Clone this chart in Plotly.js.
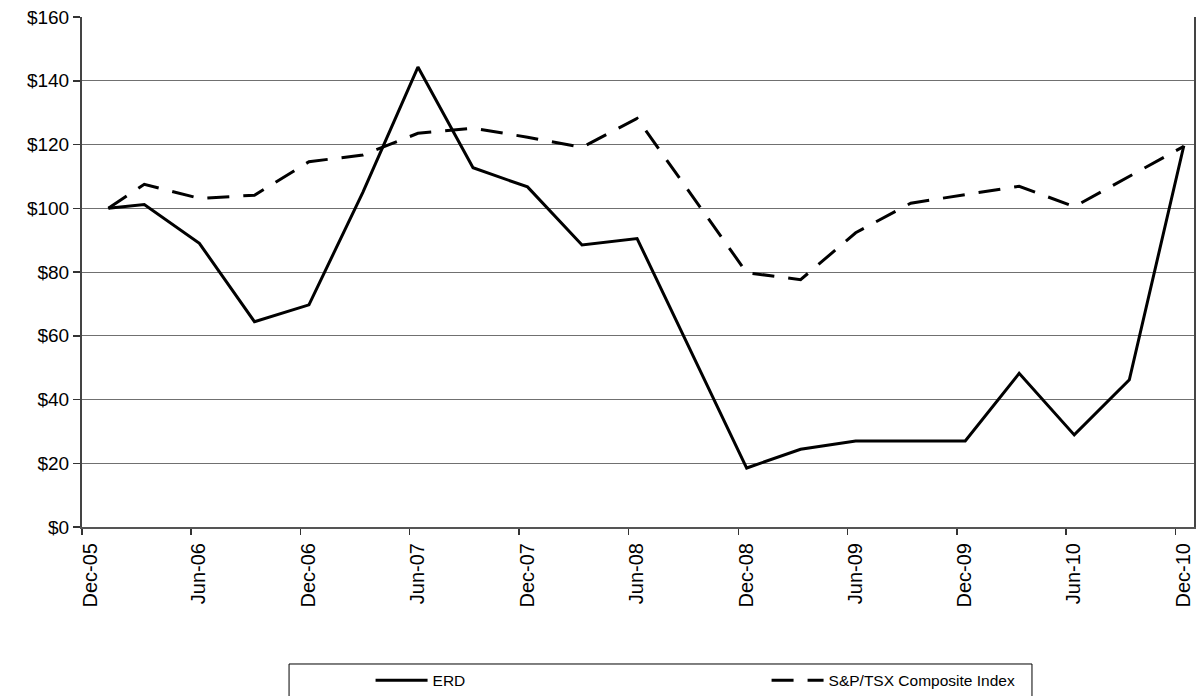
<!DOCTYPE html>
<html>
<head>
<meta charset="utf-8">
<script src="https://cdn.plot.ly/plotly-3.0.1.min.js"></script>
<style>html,body{margin:0;padding:0;background:#fff;}#chart{width:1197px;height:696px;}</style>
</head>
<body>
<div id="chart"></div>
<script>
// Quarterly observation dates
const dates = ['2006-01-14','2006-03-15','2006-06-15','2006-09-15','2006-12-15',
  '2007-03-15','2007-06-15','2007-09-15','2007-12-15',
  '2008-03-15','2008-06-15','2008-09-15','2008-12-15',
  '2009-03-15','2009-06-15','2009-09-15','2009-12-15',
  '2010-03-15','2010-06-15','2010-09-15','2010-12-15'];
const erd = [100, 101.2, 89.0, 64.4, 69.7, 105.0, 144.3, 112.7, 106.7, 88.5, 90.5,
  54.5, 18.5, 24.4, 27.0, 27.0, 27.0, 48.2, 28.9, 46.2, 119.6];
const sptsx = [100, 107.5, 103.1, 104.1, 114.6, 116.7, 123.5, 125.1, 122.3, 119.1, 128.2,
  104.0, 79.8, 77.6, 92.3, 101.6, 104.2, 106.9, 100.5, 110.0, 119.4];
const tickDates = ['2005-12-01','2006-06-01','2006-12-01','2007-06-01','2007-12-01','2008-06-01',
  '2008-12-01','2009-06-01','2009-12-01','2010-06-01','2010-12-01'];
const tickLabels = ['Dec-05','Jun-06','Dec-06','Jun-07','Dec-07','Jun-08','Dec-08','Jun-09','Dec-09','Jun-10','Dec-10'];
const yTicks = [0,20,40,60,80,100,120,140,160];
const yLabels = ['$0','$20','$40','$60','$80','$100','$120','$140','$160'];

const font = 'Liberation Sans, Arial, sans-serif';
const traces = [
  {x: dates, y: erd, name: 'ERD', type: 'scatter', mode: 'lines',
   line: {color: '#000', width: 3}},
  {x: dates, y: sptsx, name: 'S&P/TSX Composite Index', type: 'scatter', mode: 'lines',
   line: {color: '#000', width: 3, dash: '22px,14px'}}
];
const layout = {
  width: 1197, height: 696,
  margin: {l: 82, r: 3, t: 17, b: 169, autoexpand: false},
  paper_bgcolor: '#fff', plot_bgcolor: '#fff',
  font: {family: font, color: '#000', size: 18},
  showlegend: true,
  legend: {orientation: 'h', x: 0.2595, xanchor: 'left', y: -0.268, yanchor: 'top',
    font: {family: font, size: 15.5, color: '#000'}, bgcolor: 'rgba(0,0,0,0)',
    entrywidth: 329, entrywidthmode: 'pixels', itemwidth: 52, borderwidth: 0},
  xaxis: {type: 'date', range: ['2005-12-01','2011-01-01'],
    tickmode: 'array', tickvals: tickDates, ticktext: tickLabels,
    tickangle: -90, ticks: 'outside', ticklen: 6, tickcolor: '#333', tickwidth: 1.5,
    ticklabelshift: 8,
    showgrid: false, zeroline: false, showline: true, linecolor: '#555', linewidth: 2,
    tickfont: {family: font, size: 20, color: '#000'}},
  yaxis: {range: [0, 160], tickmode: 'array', tickvals: yTicks, ticktext: yLabels,
    ticks: 'outside', ticklen: 7, tickcolor: '#333', tickwidth: 1.5,
    showgrid: true, gridcolor: '#707070', gridwidth: 1, zeroline: false,
    showline: true, linecolor: '#444', linewidth: 2, mirror: true,
    tickfont: {family: font, size: 19, color: '#000'}},
  shapes: [
    {type: 'rect', xref: 'paper', yref: 'paper', x0: 0.1862, x1: 0.8543, y0: -0.2686, y1: -0.36,
     line: {color: '#000', width: 1}, fillcolor: 'rgba(0,0,0,0)'}
  ]
};
Plotly.newPlot('chart', traces, layout, {displayModeBar: false, staticPlot: true});
</script>
</body>
</html>
